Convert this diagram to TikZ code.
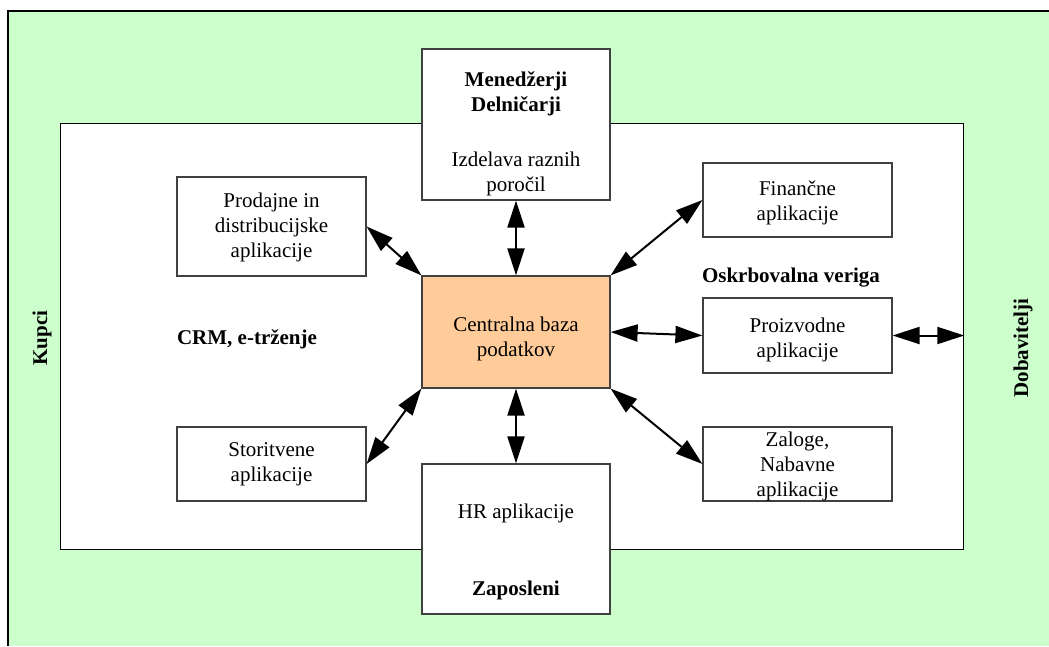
\documentclass[tikz,border=0pt]{standalone}
\usepackage{fontspec}
\setmainfont{Liberation Serif}
\usetikzlibrary{arrows.meta}
\definecolor{bggreen}{HTML}{CCFFCC}
\definecolor{dbpeach}{HTML}{FFCC99}
\tikzset{
  bigtip/.tip={Triangle[length=27pt,width=17pt]}
}
\begin{document}
\begin{tikzpicture}[x=1pt,y=-1pt,
  appbox/.style={draw=black!75, line width=1.2pt, fill=white, minimum width=189pt, inner sep=0pt},
  txt/.style={font=\fontsize{21}{25}\selectfont, align=center, inner sep=0pt},
  btxt/.style={font=\fontsize{21}{25}\selectfont\bfseries, align=center, inner sep=0pt},
  link/.style={line width=2pt, arrows={bigtip-bigtip}}
]
\useasboundingbox (0,0) rectangle (1049,646);
% outer environment
\fill[bggreen] (8,11) rectangle (1049,646);
\draw[line width=1.2pt] (8,646) -- (8,11) -- (1049,11);
% company frame
\node[draw, line width=1.3pt, fill=white, minimum width=903pt, minimum height=426pt,
      anchor=north west, inner sep=0pt] (inner) at (60,123) {};

% boxes
\node[appbox, minimum width=188pt, minimum height=151pt] (mgr) at (516,124.5) {};
\node[appbox, minimum width=188pt, minimum height=150pt] (hr) at (516,539) {};
\node[appbox, fill=dbpeach, minimum width=188pt, minimum height=112pt] (cdb) at (516,332) {};
\node[appbox, minimum height=99pt] (prod) at (271.5,226.5) {};
\node[appbox, minimum height=74pt] (stor) at (271.5,464) {};
\node[appbox, minimum height=74pt] (fin) at (797.5,200) {};
\node[appbox, minimum height=75pt] (proiz) at (797.5,335.5) {};
\node[appbox, minimum height=74pt] (zal) at (797.5,464) {};

% box texts
\node[btxt] (mgrA) at (516,93.5) {Menedžerji\\Delničarji};
\node[txt] (mgrB) at (516,174) {Izdelava raznih\\poročil};
\node[txt] (hrA) at (516,513) {HR aplikacije};
\node[btxt] (hrB) at (516,590) {Zaposleni};
\node[txt] (cdbT) at (516,339) {Centralna baza\\podatkov};
\node[txt] (prodT) at (271.5,227) {Prodajne in\\distribucijske\\aplikacije};
\node[txt] (storT) at (271.5,464) {Storitvene\\aplikacije};
\node[txt] (finT) at (797.5,203) {Finančne\\aplikacije};
\node[txt] (proizT) at (797.5,340) {Proizvodne\\aplikacije};
\node[txt] (zalT) at (797.5,466) {Zaloge,\\Nabavne\\aplikacije};

% area labels
\node[btxt] (crm) at (247,339) {CRM, e-trženje};
\node[btxt] (oskrb) at (791,278) {Oskrbovalna veriga};
\node[btxt, rotate=90] (kupci) at (42,338) {Kupci};
\node[btxt, rotate=90] (dobav) at (1023,348) {Dobavitelji};

% connectors
\coordinate (supp) at (proiz.east -| inner.east);
\draw[link] (prod.east) -- (cdb.north west);
\draw[link] (stor.east) -- (cdb.south west);
\draw[link] (mgr.south) -- (cdb.north);
\draw[link] (cdb.south) -- (hr.north);
\draw[link] (cdb.north east) -- (fin.west);
\draw[link] (cdb.east) -- (proiz.west);
\draw[link] (cdb.south east) -- (zal.west);
\draw[link] (proiz.east) -- (supp);
\end{tikzpicture}
\end{document}
